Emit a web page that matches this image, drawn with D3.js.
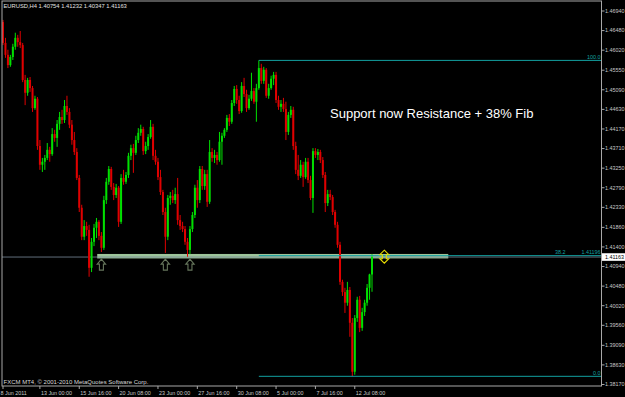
<!DOCTYPE html>
<html>
<head>
<meta charset="utf-8">
<script src="https://cdn.jsdelivr.net/npm/d3@7"></script>
<style>
  html, body { margin: 0; padding: 0; background: #000; }
  svg { display: block; }
  text { font-family: 'Liberation Sans', Arial, sans-serif; }
</style>
</head>
<body>
<div id="chart"></div>
<script>
// EURUSD H4 bars, 8 Jun - 13 Jul 2011
var opens = [
  1.4668, 1.4619, 1.4591, 1.4567, 1.4586, 1.4610, 1.4631, 1.4621, 1.4614, 1.4532,
  1.4502, 1.4532, 1.4513, 1.4466, 1.4488, 1.4377, 1.4333, 1.4340, 1.4349, 1.4368,
  1.4358, 1.4405, 1.4396, 1.4429, 1.4445, 1.4438, 1.4471, 1.4457, 1.4427, 1.4391,
  1.4363, 1.4302, 1.4232, 1.4164, 1.4189, 1.4180, 1.4091, 1.4152, 1.4185, 1.4199,
  1.4166, 1.4138, 1.4250, 1.4293, 1.4323, 1.4281, 1.4262, 1.4279, 1.4199, 1.4302,
  1.4293, 1.4309, 1.4354, 1.4372, 1.4361, 1.4391, 1.4408, 1.4417, 1.4365, 1.4377,
  1.4398, 1.4422, 1.4354, 1.4340, 1.4304, 1.4269, 1.4222, 1.4164, 1.4255, 1.4260,
  1.4250, 1.4264, 1.4203, 1.4189, 1.4182, 1.4152, 1.4133, 1.4182, 1.4215, 1.4279,
  1.4250, 1.4323, 1.4283, 1.4311, 1.4246, 1.4363, 1.4349, 1.4356, 1.4344, 1.4387,
  1.4401, 1.4415, 1.4443, 1.4434, 1.4478, 1.4511, 1.4485, 1.4459, 1.4518, 1.4499,
  1.4466, 1.4488, 1.4506, 1.4481, 1.4513, 1.4560, 1.4530, 1.4556, 1.4495, 1.4513,
  1.4535, 1.4544, 1.4485, 1.4469, 1.4476, 1.4464, 1.4410, 1.4450, 1.4462, 1.4377,
  1.4321, 1.4307, 1.4333, 1.4304, 1.4340, 1.4297, 1.4255, 1.4365, 1.4356, 1.4363,
  1.4344, 1.4309, 1.4243, 1.4264, 1.4257, 1.4222, 1.4192, 1.4145, 1.4058, 1.4034,
  1.4009, 1.4039, 1.3962, 1.3847, 1.3973, 1.4016, 1.3950, 1.3987, 1.4009, 1.4044,
  1.40754
]
var highs = [
  1.4673, 1.4631, 1.4603, 1.4591, 1.4617, 1.4643, 1.4638, 1.4647, 1.4619, 1.4544,
  1.4537, 1.4539, 1.4518, 1.4495, 1.4492, 1.4391, 1.4349, 1.4356, 1.4384, 1.4375,
  1.4419, 1.4415, 1.4438, 1.4457, 1.4462, 1.4485, 1.4495, 1.4466, 1.4438, 1.4410,
  1.4372, 1.4309, 1.4239, 1.4203, 1.4199, 1.4192, 1.4161, 1.4194, 1.4208, 1.4203,
  1.4175, 1.4260, 1.4302, 1.4330, 1.4328, 1.4290, 1.4288, 1.4283, 1.4311, 1.4321,
  1.4316, 1.4361, 1.4380, 1.4382, 1.4401, 1.4419, 1.4427, 1.4422, 1.4387, 1.4405,
  1.4438, 1.4429, 1.4368, 1.4349, 1.4321, 1.4274, 1.4232, 1.4262, 1.4269, 1.4274,
  1.4279, 1.4302, 1.4215, 1.4199, 1.4189, 1.4161, 1.4189, 1.4222, 1.4286, 1.4297,
  1.4330, 1.4330, 1.4321, 1.4321, 1.4391, 1.4372, 1.4368, 1.4363, 1.4410, 1.4408,
  1.4419, 1.4450, 1.4452, 1.4485, 1.4518, 1.4520, 1.4495, 1.4527, 1.4537, 1.4509,
  1.4497, 1.4549, 1.4513, 1.4523, 1.4578, 1.4570, 1.4563, 1.4560, 1.4523, 1.4542,
  1.4551, 1.4551, 1.4495, 1.4485, 1.4490, 1.4481, 1.4457, 1.4471, 1.4469, 1.4387,
  1.4356, 1.4344, 1.4340, 1.4349, 1.4349, 1.4307, 1.4372, 1.4372, 1.4370, 1.4368,
  1.4351, 1.4316, 1.4274, 1.4274, 1.4262, 1.4227, 1.4199, 1.4152, 1.4063, 1.4044,
  1.4058, 1.4046, 1.3973, 1.3980, 1.4023, 1.4025, 1.3997, 1.4016, 1.4053, 1.4077,
  1.41232
]
var lows = [
  1.4614, 1.4584, 1.4560, 1.4563, 1.4579, 1.4603, 1.4610, 1.4607, 1.4527, 1.4473,
  1.4495, 1.4504, 1.4457, 1.4462, 1.4368, 1.4321, 1.4316, 1.4321, 1.4344, 1.4340,
  1.4354, 1.4387, 1.4375, 1.4415, 1.4429, 1.4431, 1.4450, 1.4419, 1.4380, 1.4356,
  1.4297, 1.4222, 1.4156, 1.4156, 1.4166, 1.4070, 1.4081, 1.4142, 1.4161, 1.4156,
  1.4128, 1.4133, 1.4241, 1.4286, 1.4274, 1.4250, 1.4255, 1.4187, 1.4194, 1.4286,
  1.4288, 1.4302, 1.4344, 1.4314, 1.4356, 1.4384, 1.4401, 1.4356, 1.4358, 1.4368,
  1.4394, 1.4344, 1.4333, 1.4297, 1.4262, 1.4215, 1.4126, 1.4156, 1.4239, 1.4243,
  1.4241, 1.4192, 1.4180, 1.4175, 1.4145, 1.4117, 1.4123, 1.4175, 1.4208, 1.4232,
  1.4243, 1.4274, 1.4274, 1.4234, 1.4241, 1.4340, 1.4337, 1.4333, 1.4340, 1.4333,
  1.4396, 1.4410, 1.4424, 1.4429, 1.4471, 1.4476, 1.4452, 1.4455, 1.4492, 1.4457,
  1.4462, 1.4483, 1.4476, 1.4434, 1.4509, 1.4523, 1.4523, 1.4490, 1.4488, 1.4509,
  1.4520, 1.4478, 1.4462, 1.4457, 1.4457, 1.4391, 1.4403, 1.4443, 1.4368, 1.4311,
  1.4297, 1.4302, 1.4281, 1.4300, 1.4290, 1.4250, 1.4220, 1.4349, 1.4344, 1.4337,
  1.4302, 1.4222, 1.4236, 1.4250, 1.4215, 1.4185, 1.4138, 1.4051, 1.4025, 1.3985,
  1.4002, 1.3929, 1.38362, 1.3840, 1.3964, 1.3940, 1.3943, 1.3978, 1.4002, 1.4016,
  1.40347
]
var closes = [
  1.4619, 1.4591, 1.4567, 1.4586, 1.4610, 1.4631, 1.4621, 1.4614, 1.4532, 1.4502,
  1.4532, 1.4513, 1.4466, 1.4488, 1.4377, 1.4333, 1.4340, 1.4349, 1.4368, 1.4358,
  1.4405, 1.4396, 1.4429, 1.4445, 1.4438, 1.4471, 1.4457, 1.4427, 1.4391, 1.4363,
  1.4302, 1.4232, 1.4164, 1.4189, 1.4180, 1.4091, 1.4152, 1.4185, 1.4199, 1.4166,
  1.4138, 1.4250, 1.4293, 1.4323, 1.4281, 1.4262, 1.4279, 1.4199, 1.4302, 1.4293,
  1.4309, 1.4354, 1.4372, 1.4361, 1.4391, 1.4408, 1.4417, 1.4365, 1.4377, 1.4398,
  1.4422, 1.4354, 1.4340, 1.4304, 1.4269, 1.4222, 1.4164, 1.4255, 1.4260, 1.4250,
  1.4264, 1.4203, 1.4189, 1.4182, 1.4152, 1.4133, 1.4182, 1.4215, 1.4279, 1.4250,
  1.4323, 1.4283, 1.4311, 1.4246, 1.4363, 1.4349, 1.4356, 1.4344, 1.4387, 1.4401,
  1.4415, 1.4443, 1.4434, 1.4478, 1.4511, 1.4485, 1.4459, 1.4518, 1.4499, 1.4466,
  1.4488, 1.4506, 1.4481, 1.4513, 1.4560, 1.4530, 1.4556, 1.4495, 1.4513, 1.4535,
  1.4544, 1.4485, 1.4469, 1.4476, 1.4464, 1.4410, 1.4450, 1.4462, 1.4377, 1.4321,
  1.4307, 1.4333, 1.4304, 1.4340, 1.4297, 1.4255, 1.4365, 1.4356, 1.4363, 1.4344,
  1.4309, 1.4243, 1.4264, 1.4257, 1.4222, 1.4192, 1.4145, 1.4058, 1.4034, 1.4009,
  1.4039, 1.3962, 1.3847, 1.3973, 1.4016, 1.3950, 1.3987, 1.4009, 1.4044, 1.40754,
  1.41163
]

var timeLabels = ['8 Jun 2011', '13 Jun 00:00', '15 Jun 16:00', '20 Jun 08:00', '23 Jun 00:00',
  '27 Jun 16:00', '30 Jun 08:00', '5 Jul 00:00', '7 Jul 16:00', '12 Jul 08:00']
var timeBars = [0, 15, 31, 47, 63, 79, 95, 111, 127, 143]

var priceTicks = ['1.46940', '1.46480', '1.46020', '1.45550', '1.45090', '1.44630', '1.44170',
  '1.43710', '1.43250', '1.42790', '1.42330', '1.41860', '1.41400', '1.40940', '1.40480',
  '1.40020', '1.39560', '1.39090', '1.38630', '1.38170']

// fibonacci drawn from the 30 Jun high to the 12 Jul low
var fibHigh = 1.4578
var fibLow = 1.38362
var fibBar = 104
var fibLevels = [100, 38.2, 0]

// support zone + markers
var supportTop = 1.41235
var supportBottom = 1.4113
var supportFrom = 38.3
var supportTo = 181
var arrowBars = [40, 66, 76]
var arrowPrice = 1.41125
var markBar = 155
var markPrice = 1.4117

var width = 625
var height = 397
var plot = { left: 2, right: 601.5, top: 1, bottom: 386 }

var svg = d3
  .select('#chart')
  .append('svg')
  .attr('width', width)
  .attr('height', height)

svg.append('rect').attr('width', width).attr('height', height).attr('fill', '#000')

var x = d3.scaleLinear().domain([0, 150]).range([3, 372])
var y = d3.scaleLinear().domain([1.3817, 1.4694]).range([384.5, 11])

var bars = opens.map(function(o, i) {
  return { i: i, o: o, h: highs[i], l: lows[i], c: closes[i] }
})

var lastPrice = closes[closes.length - 1]

// support rectangle (MT4 draws filled rectangles as background)
svg
  .append('rect')
  .attr('x', x(supportFrom))
  .attr('y', y(supportTop))
  .attr('width', x(supportTo) - x(supportFrom))
  .attr('height', y(supportBottom) - y(supportTop))
  .attr('fill', '#9dc49a')

// bid line
svg
  .append('line')
  .attr('x1', plot.left)
  .attr('x2', plot.right)
  .attr('y1', y(lastPrice))
  .attr('y2', y(lastPrice))
  .attr('stroke', '#7a8a99')
  .attr('stroke-width', 0.8)

// candles
var candle = svg
  .selectAll('.candle')
  .data(bars)
  .enter()
  .append('g')
  .attr('class', 'candle')

candle
  .append('line')
  .attr('x1', d => x(d.i))
  .attr('x2', d => x(d.i))
  .attr('y1', d => y(d.h))
  .attr('y2', d => y(d.l))
  .attr('stroke', d => (d.c >= d.o ? '#00e000' : '#e00000'))
  .attr('stroke-width', 1)

candle
  .append('rect')
  .attr('x', d => x(d.i) - 1)
  .attr('width', 2)
  .attr('y', d => y(Math.max(d.o, d.c)))
  .attr('height', d => Math.max(1, Math.abs(y(d.o) - y(d.c))))
  .attr('fill', d => (d.c >= d.o ? '#00e000' : '#e00000'))

// fib levels
var fibColor = '#12a0a0'
fibLevels.forEach(function(lv) {
  var p = fibLow + (fibHigh - fibLow) * lv / 100
  svg
    .append('line')
    .attr('x1', x(fibBar))
    .attr('x2', plot.right)
    .attr('y1', y(p))
    .attr('y2', y(p))
    .attr('stroke', fibColor)
    .attr('stroke-width', 1)
  if (lv === 38.2) {
    svg
      .append('text')
      .attr('x', 555)
      .attr('y', y(p) - 1.5)
      .attr('font-size', 5.4)
      .attr('fill', fibColor)
      .text('38.2')
    svg
      .append('text')
      .attr('x', 600.5)
      .attr('y', y(p) - 1.5)
      .attr('text-anchor', 'end')
      .attr('font-size', 5.4)
      .attr('fill', fibColor)
      .text(p.toFixed(5))
  } else {
    svg
      .append('text')
      .attr('x', 600.5)
      .attr('y', y(p) - 1.5)
      .attr('text-anchor', 'end')
      .attr('font-size', 5.4)
      .attr('fill', fibColor)
      .text(lv.toFixed(1))
  }
})

// up arrows under the support touches
svg
  .selectAll('.arrow')
  .data(arrowBars)
  .enter()
  .append('path')
  .attr('class', 'arrow')
  .attr('transform', d => 'translate(' + x(d) + ',' + y(arrowPrice) + ')')
  .attr('d', 'M0,0.5 L4.2,5.5 L2,5.5 L2,11.5 L-2,11.5 L-2,5.5 L-4.2,5.5 Z')
  .attr('fill', '#000')
  .attr('stroke', '#66765c')
  .attr('stroke-width', 1.1)

// yellow up/down marker
svg
  .append('path')
  .attr('transform', 'translate(' + x(markBar) + ',' + y(markPrice) + ')')
  .attr('d', 'M0,-6.5 L4.5,-2 L2,-2 L2,2 L4.5,2 L0,6.5 L-4.5,2 L-2,2 L-2,-2 L-4.5,-2 Z')
  .attr('fill', 'none')
  .attr('stroke', '#e8dc00')
  .attr('stroke-width', 1.1)

// frame
svg
  .append('rect')
  .attr('x', plot.left)
  .attr('y', plot.top)
  .attr('width', plot.right - plot.left)
  .attr('height', plot.bottom - plot.top)
  .attr('fill', 'none')
  .attr('stroke', '#a8a8a8')
  .attr('stroke-width', 1)

// price axis
var priceAxis = svg.append('g')
priceAxis
  .selectAll('.ptick')
  .data(priceTicks)
  .enter()
  .append('line')
  .attr('x1', plot.right)
  .attr('x2', plot.right + 3)
  .attr('y1', d => y(+d))
  .attr('y2', d => y(+d))
  .attr('stroke', '#a8a8a8')
priceAxis
  .selectAll('.plabel')
  .data(priceTicks)
  .enter()
  .append('text')
  .attr('x', 605)
  .attr('y', d => y(+d) + 1.9)
  .attr('font-size', 5.4)
  .attr('fill', '#c8c8c8')
  .text(d => d)

// current price box
priceAxis
  .append('rect')
  .attr('x', plot.right + 0.5)
  .attr('y', y(lastPrice) - 3.8)
  .attr('width', 23)
  .attr('height', 7.6)
  .attr('fill', '#fff')
priceAxis
  .append('text')
  .attr('x', 605)
  .attr('y', y(lastPrice) + 1.9)
  .attr('font-size', 5.4)
  .attr('fill', '#000')
  .text(lastPrice.toFixed(5))

// time axis
var timeAxis = svg.append('g')
timeAxis
  .selectAll('.ttick')
  .data(timeBars)
  .enter()
  .append('line')
  .attr('x1', d => x(d))
  .attr('x2', d => x(d))
  .attr('y1', plot.bottom)
  .attr('y2', plot.bottom + 3)
  .attr('stroke', '#a8a8a8')
timeAxis
  .selectAll('.tlabel')
  .data(timeBars)
  .enter()
  .append('text')
  .attr('x', (d, i) => (i === 0 ? 0.5 : x(d) + 1))
  .attr('y', 394.6)
  .attr('font-size', 5.4)
  .attr('fill', '#c8c8c8')
  .text((d, i) => timeLabels[i])

// texts
svg
  .append('text')
  .attr('x', 3.5)
  .attr('y', 8.2)
  .attr('font-size', 5.8)
  .attr('fill', '#e0e0e0')
  .text('EURUSD,H4  ' + [opens, highs, lows, closes].map(a => a[a.length - 1].toFixed(5)).join(' '))

svg
  .append('text')
  .attr('x', 3.5)
  .attr('y', 383.8)
  .attr('font-size', 6)
  .attr('fill', '#d8d8d8')
  .text('FXCM MT4, \u00a9 2001-2010 MetaQuotes Software Corp.')

svg
  .append('text')
  .attr('x', 330)
  .attr('y', 117.6)
  .attr('font-size', 13)
  .attr('fill', '#ffffff')
  .text('Support now Resistance + 38% Fib')
</script>
</body>
</html>
